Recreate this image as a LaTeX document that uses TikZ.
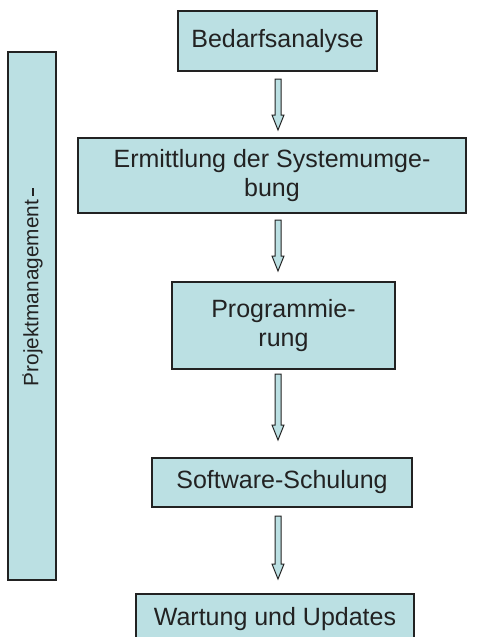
\documentclass[tikz,border=0pt]{standalone}
\usepackage{fontspec}
\setmainfont{Liberation Sans}
\usetikzlibrary{calc}
\definecolor{boxfill}{HTML}{BBE0E3}
\definecolor{edge}{HTML}{222222}
\definecolor{txt}{HTML}{222222}
\newcommand\barr[2]{\draw[barrow] let \p1=(#1), \p2=(#2) in
  (\x1-3pt,\y1) -- (\x1+3pt,\y1) -- (\x1+3pt,\y2+15pt) -- (\x1+6pt,\y2+15pt)
  -- (\x2,\y2) -- (\x1-6pt,\y2+15pt) -- (\x1-3pt,\y2+15pt) -- cycle;}
\begin{document}
\begin{tikzpicture}[x=1pt,y=-1pt,
  box/.style={draw=edge, line width=2pt, fill=boxfill, text=txt, inner sep=0pt,
    align=center, font=\fontsize{25}{28.5}\selectfont},
  barrow/.style={draw=edge, line width=1pt, fill=boxfill, line join=miter}]
\useasboundingbox (0,0) rectangle (486,637);
\node[box, minimum width=48, minimum height=528] (pm) at (32,316) {};
\node[text=txt, rotate=90, font=\fontsize{20.8}{24}\selectfont, inner sep=0pt] (pmt) at (33,293) {Projektmanagement};
\fill[edge] (32.4,188) rectangle (33.6,196);
\fill[edge] (23,375) circle (0.9);
\node[box, minimum width=199, minimum height=60] (b1) at (277.5,41) {Bedarfsanalyse};
\node[box, minimum width=388, minimum height=75] (b2) at (272,175.5) {Ermittlung der Systemumge-\\bung};
\node[box, minimum width=223, minimum height=87] (b3) at (283.5,325.5) {Programmie-\\rung};
\node[box, minimum width=260, minimum height=49] (b4) at (282,482.5) {Software-Schulung};
\node[box, minimum width=278, minimum height=50] (b5) at (275,619) {Wartung und Updates};
\coordinate (ax) at (278,0);
\coordinate (a1s) at ($(b1.south -| ax)+(0,7)$);
\coordinate (a1e) at ($(b2.north -| ax)+(0,-7)$);
\coordinate (a2s) at ($(b2.south -| ax)+(0,6)$);
\coordinate (a2e) at ($(b3.north -| ax)+(0,-10)$);
\coordinate (a3s) at ($(b3.south -| ax)+(0,4)$);
\coordinate (a3e) at ($(b4.north -| ax)+(0,-17)$);
\coordinate (a4s) at ($(b4.south -| ax)+(0,8)$);
\coordinate (a4e) at ($(b5.north -| ax)+(0,-14)$);
\barr{a1s}{a1e}
\barr{a2s}{a2e}
\barr{a3s}{a3e}
\barr{a4s}{a4e}
\end{tikzpicture}
\end{document}
